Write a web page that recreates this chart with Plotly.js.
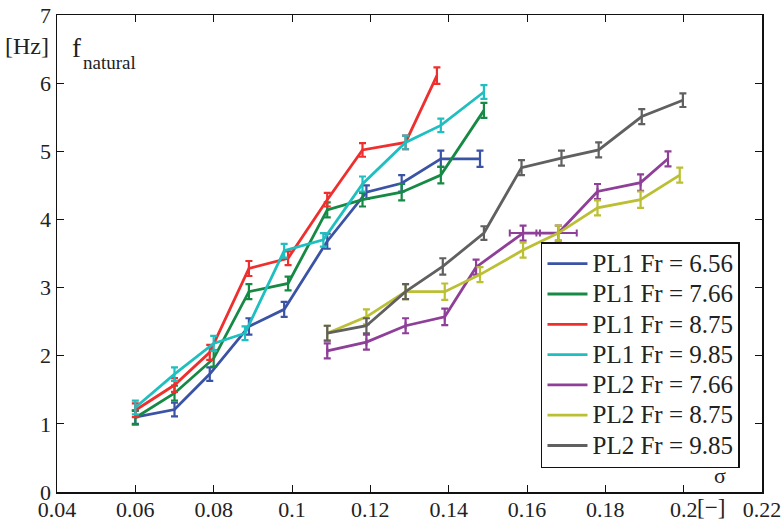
<!DOCTYPE html>
<html>
<head>
<meta charset="utf-8">
<script src="https://cdn.plot.ly/plotly-3.0.1.min.js"></script>
<style>html,body{margin:0;padding:0;background:#fff;}#chart{width:782px;height:525px;}</style>
</head>
<body>
<div id="chart"></div>
<script>
// ---- data ----
const seriesNames = ["PL1 Fr = 6.56","PL1 Fr = 7.66","PL1 Fr = 8.75","PL1 Fr = 9.85","PL2 Fr = 7.66","PL2 Fr = 8.75","PL2 Fr = 9.85"];

const x_pl1_656 = [0.060,0.070,0.079,0.089,0.098,0.109,0.119,0.128,0.138,0.148];
const y_pl1_656 = [1.10,1.21,1.73,2.43,2.68,3.68,4.40,4.53,4.89,4.89];
const e_pl1_656 = [0.10,0.10,0.10,0.12,0.11,0.11,0.10,0.12,0.12,0.12];

const x_pl1_766 = [0.060,0.070,0.080,0.089,0.099,0.109,0.118,0.128,0.138,0.149];
const y_pl1_766 = [1.09,1.45,1.96,2.94,3.06,4.14,4.29,4.40,4.65,5.60];
const e_pl1_766 = [0.10,0.11,0.12,0.11,0.10,0.11,0.10,0.12,0.12,0.11];

const x_pl1_875 = [0.060,0.070,0.079,0.089,0.099,0.109,0.118,0.129,0.137];
const y_pl1_875 = [1.20,1.57,2.05,3.28,3.43,4.29,5.02,5.13,6.11];
const e_pl1_875 = [0.10,0.10,0.11,0.11,0.10,0.10,0.10,0.10,0.12];

const x_pl1_985 = [0.060,0.070,0.080,0.088,0.098,0.108,0.118,0.129,0.138,0.149];
const y_pl1_985 = [1.24,1.73,2.18,2.33,3.54,3.70,4.52,5.13,5.38,5.87];
const e_pl1_985 = [0.10,0.10,0.11,0.10,0.10,0.10,0.11,0.10,0.10,0.10];

const x_pl2_766 = [0.109,0.119,0.129,0.139,0.147,0.159,0.168,0.178,0.189,0.196];
const y_pl2_766 = [2.07,2.20,2.44,2.57,3.30,3.80,3.80,4.41,4.54,4.89];
const e_pl2_766 = [0.11,0.11,0.11,0.12,0.11,0.11,0.11,0.11,0.12,0.11];
const ex_pl2_766 = [0,0,0,0,0,0.0034,0.0047,0,0,0];

const x_pl2_875 = [0.109,0.119,0.129,0.139,0.148,0.159,0.168,0.178,0.189,0.199];
const y_pl2_875 = [2.33,2.57,2.94,2.94,3.19,3.55,3.80,4.17,4.29,4.65];
const e_pl2_875 = [0.11,0.11,0.11,0.12,0.11,0.11,0.11,0.11,0.12,0.11];

const x_pl2_985 = [0.109,0.119,0.129,0.1385,0.149,0.1586,0.1688,0.1783,0.1893,0.1998];
const y_pl2_985 = [2.33,2.44,2.94,3.31,3.80,4.76,4.90,5.02,5.51,5.75];
const e_pl2_985 = [0.11,0.11,0.11,0.12,0.10,0.11,0.11,0.11,0.11,0.10];

const xTicks = [0.04,0.06,0.08,0.1,0.12,0.14,0.16,0.18,0.2,0.22];
const xTickText = ["0.04","0.06","0.08","0.1","0.12","0.14","0.16","0.18","0.2","0.22"];
const yTicks = [0,1,2,3,4,5,6,7];

const colors = ["#3A53A4","#168A45","#EE2F2E","#1FBFC0","#8E3F98","#BBBF33","#606060"];

const allX = [x_pl1_656,x_pl1_766,x_pl1_875,x_pl1_985,x_pl2_766,x_pl2_875,x_pl2_985];
const allY = [y_pl1_656,y_pl1_766,y_pl1_875,y_pl1_985,y_pl2_766,y_pl2_875,y_pl2_985];
const allE = [e_pl1_656,e_pl1_766,e_pl1_875,e_pl1_985,e_pl2_766,e_pl2_875,e_pl2_985];

const traces = seriesNames.map((n,i)=>{
  const t = {
    type:'scatter', mode:'lines',
    name:'<span style="font-size:25px">'+n+'</span>',
    x: allX[i], y: allY[i],
    line:{color:colors[i], width:2.8},
    error_y:{type:'data', array: allE[i], visible:true, color:colors[i], thickness:2.2, width:3.5}
  };
  if (i===4) {
    t.error_x = {type:'data', array: ex_pl2_766, visible:true, color:colors[i], thickness:2, width:3.5};
  }
  return t;
});

const serif = "'Liberation Serif', 'Times New Roman', Times, serif";

const layout = {
  width:782, height:525,
  margin:{l:57, r:20, t:15, b:33},
  paper_bgcolor:'#fff', plot_bgcolor:'#fff',
  font:{family:serif, size:20, color:'#222'},
  showlegend:true,
  legend:{
    x:0.6865, y:0.524, xanchor:'left', yanchor:'top',
    bgcolor:'#fff', bordercolor:'#111', borderwidth:1.5,
    font:{family:serif, size:21, color:'#222'},
    traceorder:'normal', itemwidth:40
  },
  xaxis:{
    range:[0.04,0.22], tickvals:xTicks, ticktext:xTickText,
    showline:true, linecolor:'#111', linewidth:1.5, mirror:'ticks',
    ticks:'inside', ticklen:7, tickcolor:'#111', tickwidth:1,
    showgrid:false, zeroline:false, ticklabelstandoff:-3,
    tickfont:{family:serif, size:22, color:'#222'}
  },
  yaxis:{
    range:[0,7], tickvals:yTicks,
    showline:true, linecolor:'#111', linewidth:1.5, mirror:'ticks',
    ticks:'inside', ticklen:7, tickcolor:'#111', tickwidth:1,
    showgrid:false, zeroline:false,
    tickfont:{family:serif, size:22, color:'#222'}
  },
  annotations:[
    {xref:'paper', yref:'paper', x:-0.076, y:0.935, text:'[Hz]', showarrow:false, xanchor:'left', yanchor:'middle', font:{family:serif, size:24, color:'#222'}},
    {xref:'paper', yref:'paper', x:0.018, y:0.93, text:'f', showarrow:false, xanchor:'left', yanchor:'middle', font:{family:serif, size:27, color:'#222'}},
    {xref:'paper', yref:'paper', x:0.034, y:0.9, text:'natural', showarrow:false, xanchor:'left', yanchor:'middle', font:{family:serif, size:19, color:'#222'}},
    {xref:'paper', yref:'paper', x:0.929, y:0.034, text:'σ', showarrow:false, xanchor:'left', yanchor:'middle', font:{family:serif, size:22, color:'#222'}},
    {xref:'paper', yref:'paper', x:0.905, y:-0.0335, text:'[−]', showarrow:false, xanchor:'left', yanchor:'middle', font:{family:serif, size:23, color:'#222'}}
  ]
};

Plotly.newPlot('chart', traces, layout, {staticPlot:true, displayModeBar:false});
</script>
</body>
</html>
